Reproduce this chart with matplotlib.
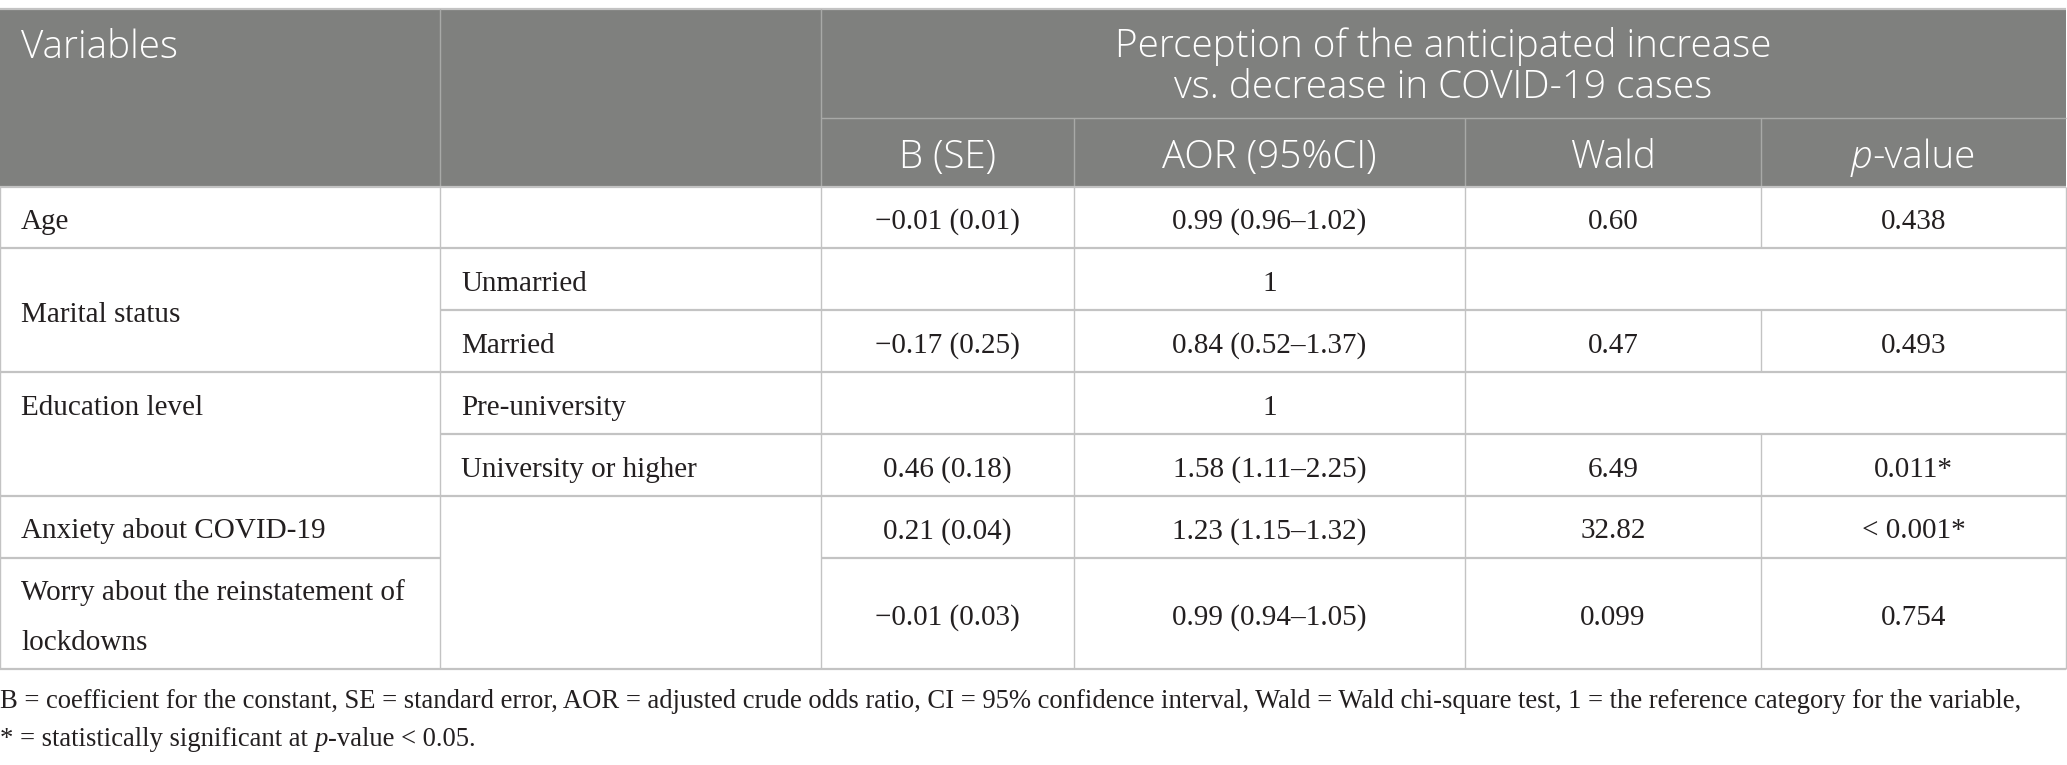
import matplotlib
matplotlib.use("Agg")
import matplotlib.pyplot as plt
from matplotlib.patches import Rectangle

# ---------------- data ----------------
header_group = ["Perception of the anticipated increase", "vs. decrease in COVID-19 cases"]
sub_headers = ["B (SE)", "AOR (95%CI)", "Wald", "p-value"]
variables = ["Age", "Marital status", "Education level", "Anxiety about COVID-19",
             "Worry about the reinstatement of\nlockdowns"]
categories = ["", "Unmarried", "Married", "Pre-university", "University or higher", "", ""]
b_se = ["\u22120.01 (0.01)", "", "\u22120.17 (0.25)", "", "0.46 (0.18)", "0.21 (0.04)", "\u22120.01 (0.03)"]
aor = ["0.99 (0.96\u20131.02)", "1", "0.84 (0.52\u20131.37)", "1", "1.58 (1.11\u20132.25)",
       "1.23 (1.15\u20131.32)", "0.99 (0.94\u20131.05)"]
wald = ["0.60", "", "0.47", "", "6.49", "32.82", "0.099"]
pvals = ["0.438", "", "0.493", "", "0.011*", "< 0.001*", "0.754"]
footnote1 = ("B = coefficient for the constant, SE = standard error, AOR = adjusted crude odds ratio, "
             "CI = 95% confidence interval, Wald = Wald chi-square test, 1 = the reference category for the variable,")
footnote2 = [("* = statistically significant at ", "normal"), ("p", "italic"), ("-value < 0.05.", "normal")]

# ---------------- layout ----------------
W, H = 2067, 765
fig = plt.figure(figsize=(W / 100, H / 100), dpi=100)
ax = fig.add_axes([0, 0, 1, 1])
ax.set_xlim(0, W)
ax.set_ylim(H, 0)
ax.axis("off")

cx = [0, 440, 821, 1074, 1465, 1761, 2066]
ry = [9, 118, 187, 248, 310, 372, 434, 496, 558, 669]
HDR = "#7f807e"
HL = "#a8a9a7"
BL = "#c3c3c3"
TXT = "#231f20"
SANS = "Open Sans"
SERIF = "Liberation Serif"
HW = "light"
hfs = 27.8
bfs = 21.0
ffs = 19.2
dy = 4.5  # optical offset of serif text in cells

ax.add_patch(Rectangle((0, ry[0]), cx[-1], ry[2] - ry[0], color=HDR, lw=0, zorder=1))

def hline(y, x0, x1, c, lw):
    ax.plot([x0, x1], [y, y], color=c, lw=lw, solid_capstyle="butt", zorder=3)

def vline(x, y0, y1, c, lw):
    ax.plot([x, x], [y0, y1], color=c, lw=lw, solid_capstyle="butt", zorder=3)

# header lines
hline(ry[0], 0, cx[-1], BL, 1.6)
hline(ry[1], cx[2], cx[-1], HL, 1.0)
for x in cx[1:3]:
    vline(x, ry[0], ry[2], HL, 1.0)
for x in cx[3:6]:
    vline(x, ry[1], ry[2], HL, 1.0)

# body horizontal lines
hline(ry[2], 0, cx[-1], BL, 1.6)
hline(ry[3], 0, cx[-1], BL, 1.6)
hline(ry[4], cx[1], cx[-1], BL, 1.6)
hline(ry[5], 0, cx[-1], BL, 1.6)
hline(ry[6], cx[1], cx[-1], BL, 1.6)
hline(ry[7], 0, cx[-1], BL, 1.6)
hline(ry[8], 0, cx[1], BL, 1.6)
hline(ry[8], cx[2], cx[-1], BL, 1.6)
hline(ry[9], 0, cx[-1], BL, 1.6)

# body vertical lines
vline(0, ry[2], ry[9], BL, 1.0)
vline(cx[-1], ry[2], ry[9], BL, 1.0)
for x in cx[1:5]:
    vline(x, ry[2], ry[9], BL, 1.0)
for i in range(len(categories)):
    if aor[i] == "1":
        continue
    vline(cx[5], ry[i + 2], ry[i + 3], BL, 1.0)

fig.canvas.draw()
renderer = fig.canvas.get_renderer()
inv = ax.transData.inverted()

def seg_text(x, y, parts, ha, **kw):
    """Draw text made of (string, style) parts side by side."""
    arts = []
    widths = []
    for s, st in parts:
        t = ax.text(0, y, s, ha="left", va="center", fontstyle=st, **kw)
        bb = t.get_window_extent(renderer)
        p0 = inv.transform((bb.x0, bb.y0))
        p1 = inv.transform((bb.x1, bb.y0))
        widths.append(p1[0] - p0[0])
        arts.append(t)
    total = sum(widths)
    x0 = x - total / 2 if ha == "center" else x
    for t, w in zip(arts, widths):
        t.set_x(x0)
        x0 += w

# header text
hkw = dict(color="white", fontsize=hfs, family=SANS, fontweight=HW, zorder=4)
ax.text(21, 48, "Variables", ha="left", va="center", **hkw)
xg = (cx[2] + cx[-1]) / 2
ax.text(xg, 46, header_group[0], ha="center", va="center", **hkw)
ax.text(xg, 88, header_group[1], ha="center", va="center", **hkw)
for j, s in enumerate(sub_headers):
    xc = (cx[j + 2] + cx[j + 3]) / 2
    if s == "p-value":
        seg_text(xc, 158, [("p", "italic"), ("-value", "normal")], "center", **hkw)
    else:
        ax.text(xc, 158, s, ha="center", va="center", **hkw)

# body text
bkw = dict(fontsize=bfs, family=SERIF, color=TXT, zorder=4)
rc = [(ry[i + 2] + ry[i + 3]) / 2 + dy for i in range(len(categories))]
var_y = [rc[0], (ry[3] + ry[5]) / 2 + dy, rc[3], rc[5], rc[6]]
for v, y in zip(variables, var_y):
    ax.text(21, y, v, ha="left", va="center", linespacing=2.2, **bkw)
for i, c in enumerate(categories):
    if c:
        ax.text(461, rc[i], c, ha="left", va="center", **bkw)
for col, vals in enumerate([b_se, aor, wald, pvals]):
    xc = (cx[col + 2] + cx[col + 3]) / 2
    for i, s in enumerate(vals):
        if s:
            ax.text(xc, rc[i], s, ha="center", va="center", **bkw)

fkw = dict(fontsize=ffs, family=SERIF, color=TXT, zorder=4)
ax.text(0, 702, footnote1, ha="left", va="center", **fkw)
seg_text(0, 740, footnote2, "left", **fkw)

fig.savefig("out.png", dpi=100)
